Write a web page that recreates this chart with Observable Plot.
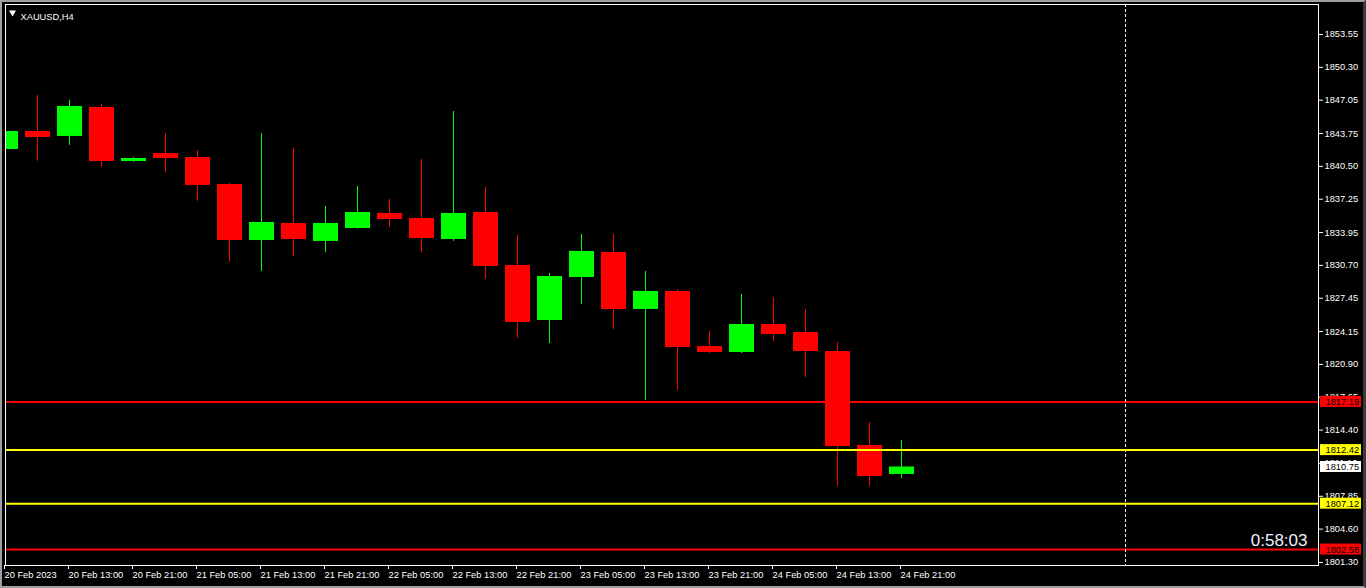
<!DOCTYPE html>
<html><head><meta charset="utf-8">
<script src="https://cdn.jsdelivr.net/npm/d3@7"></script>
<script src="https://cdn.jsdelivr.net/npm/@observablehq/plot@0.6"></script>
<style>
html,body{margin:0;padding:0;background:#000;width:1366px;height:588px;overflow:hidden;}
#chart{position:absolute;left:0;top:0;}
#edge{position:absolute;left:0;top:0;width:1366px;height:588px;box-sizing:border-box;border-top:2px solid #a0a0a0;border-left:2px solid #a0a0a0;border-bottom:2px solid #a0a0a0;border-right:3px solid #3a3a3a;pointer-events:none;}
</style></head><body><div id="chart"></div><div id="edge"></div>
<script>
const symbol = "XAUUSD,H4";
const barIndex = [0,1,2,3,4,5,6,7,8,9,10,11,12,13,14,15,16,17,18,19,20,21,22,23,24,25,26,27,28];
const open  = [1842.17,1843.95,1843.46,1846.33,1840.98,1841.77,1841.38,1838.71,1833.16,1834.85,1833.07,1834.35,1835.84,1835.34,1833.26,1835.94,1830.69,1825.25,1829.50,1831.98,1826.34,1828.12,1822.67,1822.08,1824.85,1824.06,1822.18,1812.88,1810.01];
const high  = [1845.53,1847.51,1847.02,1846.62,1841.38,1843.75,1842.07,1838.80,1843.75,1842.27,1836.53,1838.51,1837.22,1841.18,1845.93,1838.41,1833.66,1829.90,1833.76,1833.76,1830.10,1828.32,1824.16,1827.82,1827.52,1826.34,1823.07,1815.15,1813.37];
const low   = [1841.08,1841.01,1842.57,1840.42,1840.88,1839.92,1837.05,1831.02,1830.10,1831.58,1831.98,1834.30,1834.45,1831.98,1833.07,1829.30,1823.47,1822.97,1826.83,1824.36,1817.33,1818.32,1821.98,1821.98,1823.17,1819.61,1808.82,1808.82,1809.61];
const close = [1843.95,1843.36,1846.43,1840.98,1841.28,1841.28,1838.61,1833.16,1834.95,1833.26,1834.85,1835.94,1835.24,1833.36,1835.84,1830.59,1825.05,1829.60,1832.08,1826.34,1828.12,1822.58,1822.08,1824.85,1823.86,1822.18,1812.78,1809.81,1810.75];
const timeTickIndex  = [0,2,4,6,8,10,12,14,16,18,20,22,24,26,28];
const timeTickLabels = ["20 Feb 2023","20 Feb 13:00","20 Feb 21:00","21 Feb 05:00","21 Feb 13:00","21 Feb 21:00","22 Feb 05:00","22 Feb 13:00","22 Feb 21:00","23 Feb 05:00","23 Feb 13:00","23 Feb 21:00","24 Feb 05:00","24 Feb 13:00","24 Feb 21:00"];
const priceTicks = [1853.55,1850.30,1847.05,1843.75,1840.50,1837.25,1833.95,1830.70,1827.45,1824.15,1820.90,1817.65,1814.40,1811.10,1807.85,1804.60,1801.30];
const levelPrices = [1817.19,1812.42,1807.12,1802.58];
const levelColors = ["#ff0000","#ffff00","#ffff00","#ff0000"];
const bidPrice = 1810.75;
const shiftIndex = [35];
const timerText = "0:58:03";
const xDomain = [0, 41.03];
const yDomain = [1801.00, 1856.52];

const bars = barIndex.map((i, k) => ({i, open: open[k], high: high[k], low: low[k], close: close[k],
  color: close[k] >= open[k] ? "#00ff00" : "#ff0000"}));
const levels = levelPrices.map((p, k) => ({price: p, color: levelColors[k], ink: "#000"}));
const tags = [...levels, {price: bidPrice, color: "#ffffff", ink: "#000"}];
const right = xDomain[1];

const chart = Plot.plot({
  width: 1366, height: 588,
  marginLeft: 5, marginRight: 48, marginTop: 4, marginBottom: 23,
  style: {background: "transparent", color: "white", fontFamily: "'Liberation Sans', Arial, sans-serif", fontSize: "9.3px"},
  x: {domain: xDomain},
  y: {domain: yDomain},
  color: {type: "identity"},
  marks: [
    Plot.ruleX(bars, {x: "i", y1: "low", y2: "high", stroke: "color", strokeWidth: 1, clip: true}),
    Plot.ruleX(bars, {x: "i", y1: "open", y2: "close", stroke: "color", strokeWidth: 25, clip: true}),
    Plot.ruleY(levels, {y: "price", stroke: "color", strokeWidth: 2, clip: true}),
    Plot.ruleX(shiftIndex, {x: d => d, stroke: "white", strokeWidth: 1, strokeDasharray: "3,2"}),
    Plot.frame({stroke: "white"}),
    Plot.axisY({anchor: "right", ticks: priceTicks, tickFormat: d => d.toFixed(2), tickSize: 4, tickPadding: 2, label: null, color: "white"}),
    Plot.axisX({anchor: "bottom", ticks: timeTickIndex, tickFormat: d => timeTickLabels[timeTickIndex.indexOf(d)], tickSize: 4, tickPadding: 2, textAnchor: "start", dx: -1, label: null, color: "white"}),
    Plot.rect(tags, {x1: right, x2: right, y1: "price", y2: "price", fill: "color", insetLeft: 2, insetRight: -43, insetTop: -5.5, insetBottom: -5.5}),
    Plot.text(tags, {y: "price", frameAnchor: "right", dx: 7, textAnchor: "start", text: d => d.price.toFixed(2), fill: "ink"}),
    Plot.text([symbol], {frameAnchor: "top-left", dx: 15, dy: 8.5, textAnchor: "start", text: d => d, fill: "white", fontSize: 9.3}),
    Plot.dot(["▼"], {frameAnchor: "top-left", dx: 7, dy: 8, symbol: "triangle", r: 2.6, fill: "white", stroke: "none", rotate: 180}),
    Plot.text([timerText], {frameAnchor: "bottom-right", dx: -11, dy: -19.5, textAnchor: "end", text: d => d, fill: "#eef2ff", fontSize: 17})
  ]
});
document.getElementById("chart").appendChild(chart);
</script>
</body></html>
